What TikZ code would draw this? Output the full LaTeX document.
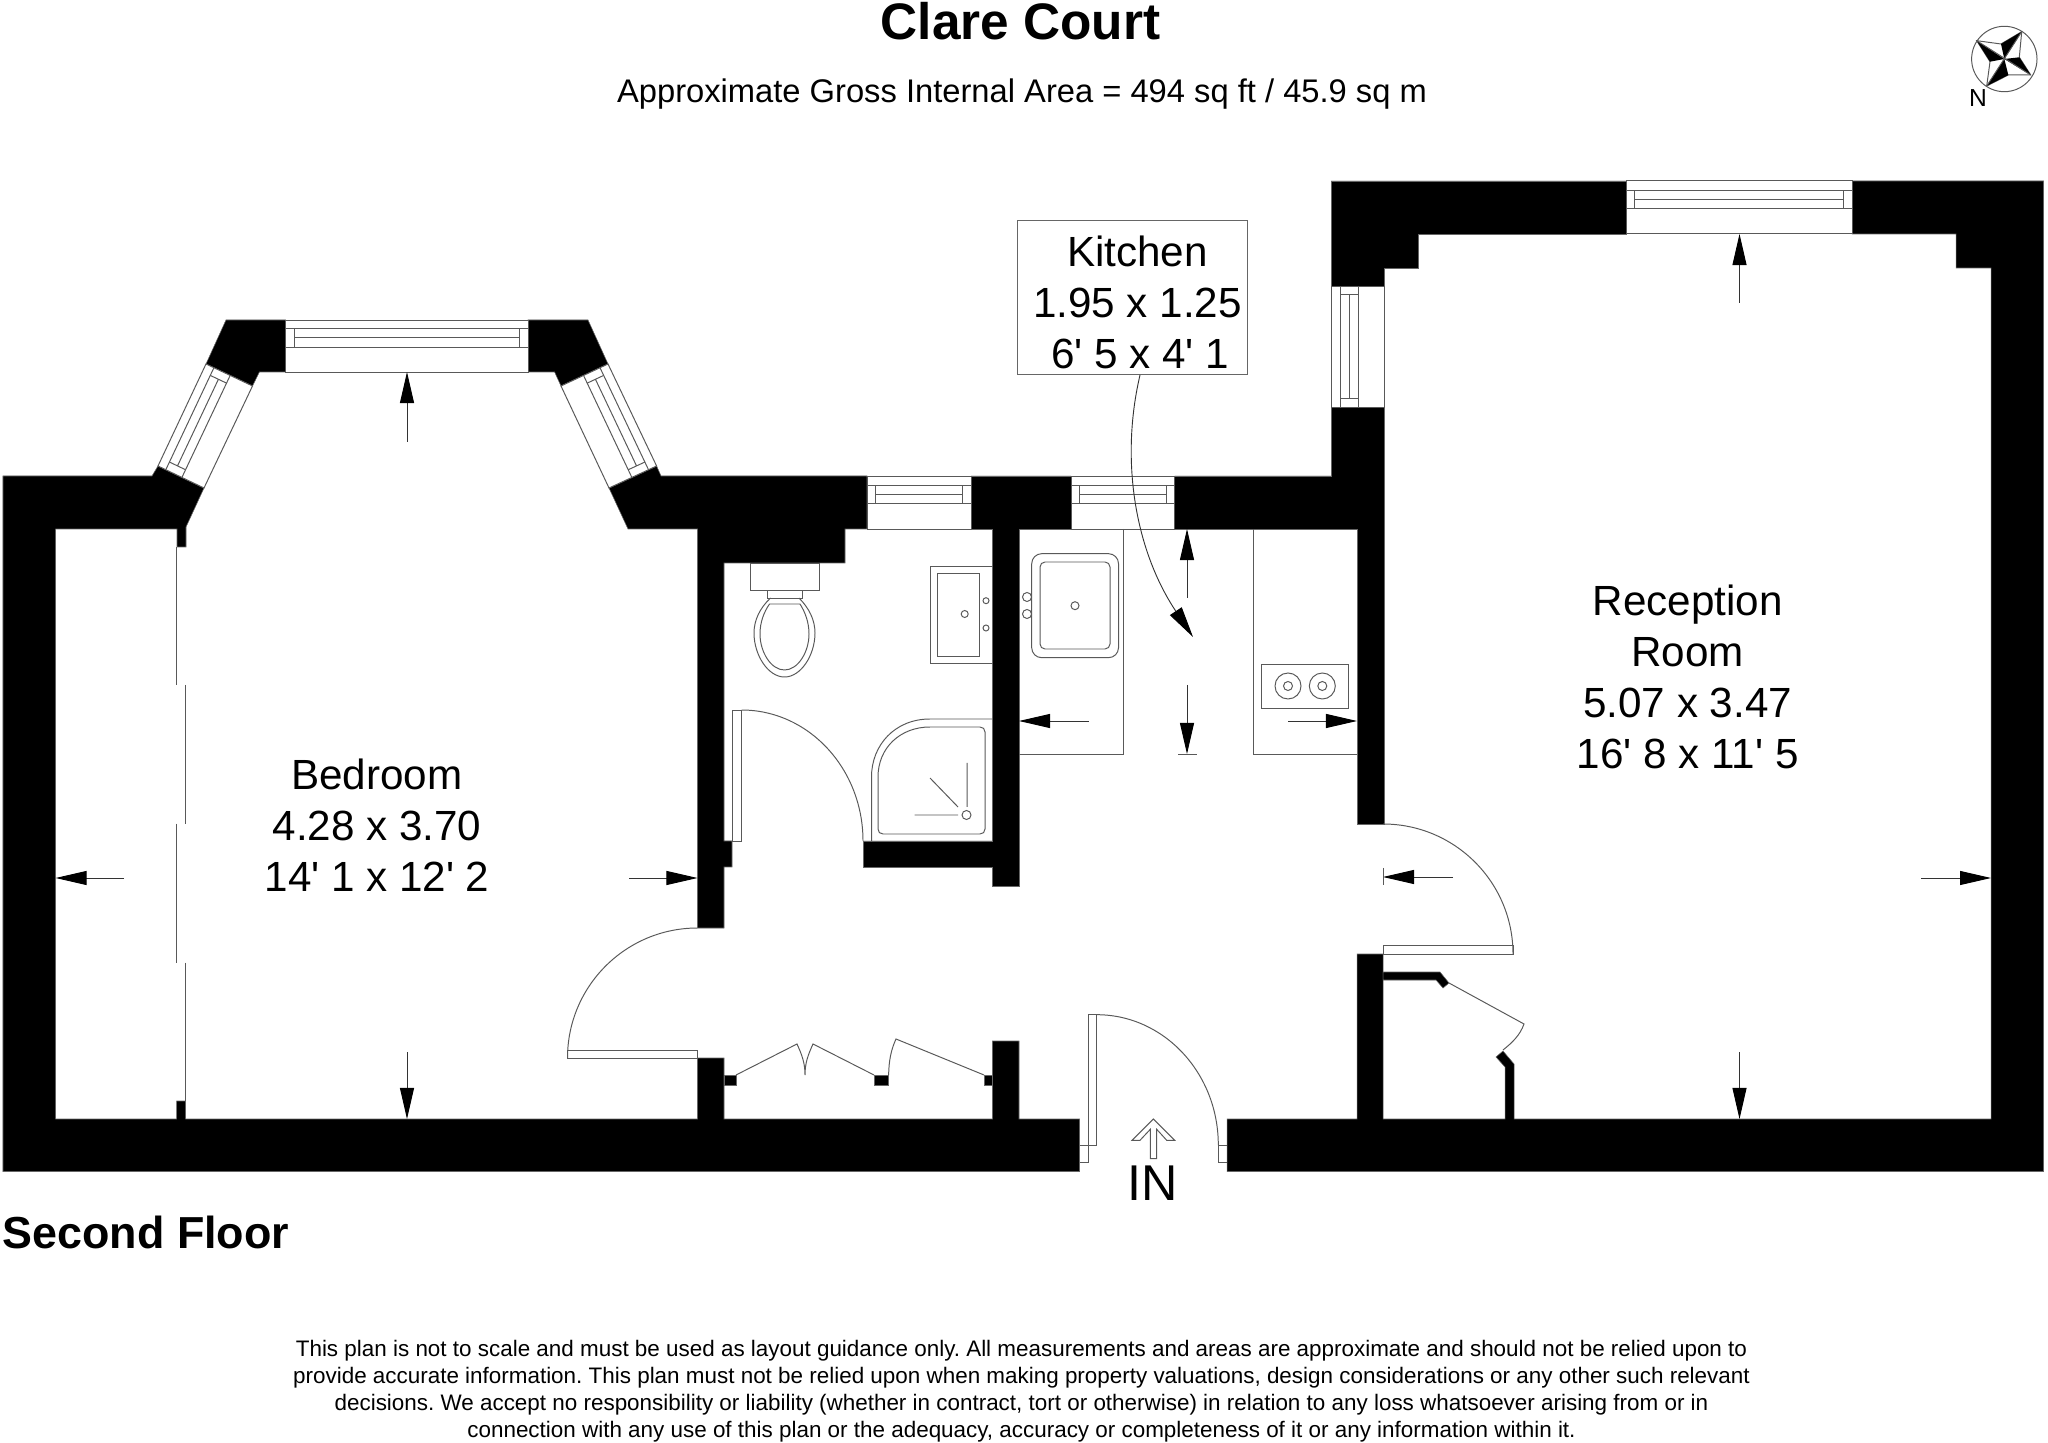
\documentclass[tikz,border=0pt]{standalone}
\usepackage{fontspec}
\setmainfont{Liberation Sans}
\usetikzlibrary{arrows.meta,calc,positioning}

\newcommand{\ft}{\textquotesingle}
% glazing bars of a window, given its four corners
\newcommand{\glazing}[4]{
  \draw[fitting,fill=white] (#1) -- (#2) -- (#3) -- (#4) -- cycle;
  \coordinate (ga) at ($(#1)!.17!(#4)$);
  \coordinate (gb) at ($(#2)!.17!(#3)$);
  \coordinate (ma) at ($(#1)!.345!(#4)$);
  \coordinate (mb) at ($(#2)!.345!(#3)$);
  \coordinate (ha) at ($(#1)!.52!(#4)$);
  \coordinate (hb) at ($(#2)!.52!(#3)$);
  \draw[fitting] (ga) -- (gb) (ha) -- (hb);
  \draw[fitting] ($(ga)!.085cm!(gb)$) -- ($(ha)!.085cm!(hb)$)
                 ($(gb)!.085cm!(ga)$) -- ($(hb)!.085cm!(ha)$)
                 ($(ma)!.085cm!(mb)$) -- ($(mb)!.085cm!(ma)$);
}

\begin{document}
\frenchspacing
\begin{tikzpicture}[x=.01cm,y=-.01cm]
\tikzstyle{wall}=[fill=black,draw=black!60,line width=.15pt]
\tikzstyle{fitting}=[draw=black!65,line width=.28pt]
\tikzstyle{dimline}=[-{Triangle[length=.31cm,width=.14cm,color=black]},draw=black!80,line width=.26pt]
\tikzstyle{roomlabel}=[align=center,inner sep=0pt,font=\fontsize{12}{14.5}\selectfont]
\useasboundingbox (0,0) rectangle (2048,1443);

% walls
\fill[wall] (3,476) -- (152,476) -- (158,466) -- (204,488) -- (186,527) -- (186,547) -- (177,547) -- (177,529) -- (55.6,529) -- (55.6,1119) -- (176.7,1119) -- (176.7,1101) -- (185.7,1101) -- (185.7,1119) -- (697.5,1119) -- (697.5,1058) -- (724,1058) -- (724,1119) -- (992.5,1119) -- (992.5,1041) -- (1019,1041) -- (1019,1119) -- (1079.7,1119) -- (1079.7,1171.5) -- (3,1171.5) -- cycle;
\fill[wall] (226,320) -- (285.6,320) -- (285.6,372) -- (259.4,372) -- (252.5,386) -- (206,364) -- cycle;
\fill[wall] (528,320) -- (588,320) -- (608,364) -- (561,386) -- (554.6,372) -- (528,372) -- cycle;
\fill[wall] (656.6,466) -- (661,476) -- (867,476) -- (867,529) -- (845,529) -- (845,563) -- (724,563) -- (724,841) -- (732,841) -- (732,867) -- (724,867) -- (724,928) -- (697.5,928) -- (697.5,529) -- (628,529) -- (609,488) -- cycle;
\fill[wall] (971,476) -- (1071,476) -- (1071,529) -- (1019,529) -- (1019,886) -- (992.5,886) -- (992.5,867) -- (863,867) -- (863,841) -- (992.5,841) -- (992.5,529) -- (971,529) -- cycle;
\fill[wall] (1174.5,476) -- (1331,476) -- (1331,407) -- (1384,407) -- (1384,824) -- (1357,824) -- (1357,529) -- (1174.5,529) -- cycle;
\fill[wall] (1331,181) -- (1626.3,181) -- (1626.3,234) -- (1418,234) -- (1418,268) -- (1384,268) -- (1384,286) -- (1331,286) -- cycle;
\fill[wall] (1852,181) -- (2043.5,181) -- (2043.5,1171.5) -- (1227,1171.5) -- (1227,1119) -- (1357,1119) -- (1357,954) -- (1383,954) -- (1383,1119) -- (1505,1119) -- (1505,1067) -- (1496,1057) -- (1503,1051) -- (1514,1064) -- (1514,1119) -- (1991,1119) -- (1991,268) -- (1956,268) -- (1956,234) -- (1852,234) -- cycle;
\fill[wall] (1383,972) -- (1440,972) -- (1449,983) -- (1443,988) -- (1436,980) -- (1383,980) -- cycle;
\foreach \xa/\xb in {724/736,874/888.6,984/992.5}
  \fill[wall] (\xa,1075) rectangle (\xb,1085);

% windows
\coordinate (bayla) at (158,466); \coordinate (baylb) at (206,364);
\coordinate (baylc) at (252.5,386); \coordinate (bayld) at (204,488);
\glazing{bayla}{baylb}{baylc}{bayld}
\coordinate (bayra) at (608,364); \coordinate (bayrb) at (656.6,466);
\coordinate (bayrc) at (609,488); \coordinate (bayrd) at (561,386);
\glazing{bayra}{bayrb}{bayrc}{bayrd}
\coordinate (bayta) at (285.6,320); \coordinate (baytb) at (528,320);
\coordinate (baytc) at (528,372); \coordinate (baytd) at (285.6,372);
\glazing{bayta}{baytb}{baytc}{baytd}
\coordinate (batha) at (867,476); \coordinate (bathb) at (971,476);
\coordinate (bathc) at (971,529); \coordinate (bathd) at (867,529);
\glazing{batha}{bathb}{bathc}{bathd}
\coordinate (kita) at (1071,476); \coordinate (kitb) at (1174.5,476);
\coordinate (kitc) at (1174.5,529); \coordinate (kitd) at (1071,529);
\glazing{kita}{kitb}{kitc}{kitd}
\coordinate (recta) at (1626.3,181); \coordinate (rectb) at (1852,181);
\coordinate (rectc) at (1852,234); \coordinate (rectd) at (1626.3,234);
\glazing{recta}{rectb}{rectc}{rectd}
\coordinate (recla) at (1331,286); \coordinate (reclb) at (1331,407);
\coordinate (reclc) at (1384,407); \coordinate (recld) at (1384,286);
\glazing{recla}{reclb}{reclc}{recld}

% bedroom partition
\foreach \xa/\ya/\yb in {176.7/547/685,185.7/685/823.6,176.7/823.6/962.7,185.7/962.7/1101}
  \draw[fitting] (\xa,\ya) -- (\xa,\yb);

% doors
\draw[fitting] (697.5,1050) rectangle (567.5,1058);
\draw[fitting] (697.5,928) arc[start angle=-90,end angle=-180,radius=130];
\draw[fitting] (732,710) rectangle (741.5,841);
\draw[fitting] (741.5,710) arc[start angle=-90,end angle=0,x radius=121.5,y radius=131];
\draw[fitting] (1383,945) rectangle (1513,954);
\draw[fitting] (1383,824) arc[start angle=-90,end angle=0,radius=130];
\draw[fitting] (1079.7,1145) -- (1096.7,1145) -- (1096.7,1014.7) -- (1088.7,1014.7) -- (1088.7,1162) -- (1079.7,1162);
\draw[fitting] (1096.7,1014.7) arc[start angle=-90,end angle=0,x radius=121.6,y radius=130.3];
\draw[fitting] (1227,1145) -- (1218.3,1145) -- (1218.3,1162) -- (1227,1162);

% wardrobe and cupboard doors
\draw[fitting] (736,1075) -- (797,1044) .. controls (802,1055) and (805,1063) .. (805,1075) .. controls (805,1063) and (808,1055) .. (813,1044) -- (874,1075);
\draw[fitting] (888.6,1075) .. controls (889,1060) and (891,1050) .. (896,1039) -- (984,1075);
\draw[fitting] (1449,983) -- (1524,1024) .. controls (1520,1035) and (1513,1042) .. (1503,1050);

% toilet
\draw[fitting] (750,563.7) rectangle (819,590);
\draw[fitting] (767,590) rectangle (802,598);
\draw[fitting] (770.5,598) .. controls (760,608) and (754,620) .. (754,633) .. controls (754,655) and (768,677) .. (784.5,677) .. controls (801,677) and (815,655) .. (815,633) .. controls (815,620) and (809,608) .. (799,598);
\draw[fitting] (769.5,604) -- (800,604) .. controls (805,612) and (809,622) .. (809,634) .. controls (809,652) and (798,670) .. (784.5,670) .. controls (771,670) and (760,652) .. (760,634) .. controls (760,622) and (764,612) .. (769.5,604) -- cycle;

% basin
\draw[fitting] (992.5,566) -- (930,566) -- (930,663) -- (992.5,663);
\draw[fitting] (937.6,573) rectangle (979,656);
\draw[fitting] (964.7,614) circle[radius=3.5];
\draw[fitting] (986,600.7) circle[radius=3] (986,628) circle[radius=3];

% shower
\draw[fitting] (992.5,719) -- (930,719) .. controls (895,719) and (871.5,745) .. (871.5,777) -- (871.5,841);
\draw[fitting] (930,727) -- (980,727) .. controls (983,727) and (985,729) .. (985,732) -- (985,829) .. controls (985,832) and (983,834) .. (980,834) -- (883,834) .. controls (880,834) and (878,832) .. (878,829) -- (878,777) .. controls (878,748) and (900,727) .. (930,727) -- cycle;
\draw[fitting] (966.5,815) circle[radius=4.5];
\draw[fitting] (967,763) -- (967,807) (930,778) -- (958,807) (914.6,815) -- (958,815);

% kitchen units
\draw[fitting] (1123,529) -- (1123,754) -- (1019,754);
\draw[fitting] (1253.5,529) -- (1253.5,754) -- (1357,754);
\draw[fitting,rounded corners=.1cm] (1031.7,553.7) rectangle (1118.5,657.7);
\draw[fitting,rounded corners=.05cm] (1040,562) rectangle (1110,649);
\draw[fitting] (1075,605.7) circle[radius=4];
\draw[fitting] (1027,597) circle[radius=4.5] (1027,614) circle[radius=4.5];
\draw[fitting] (1261.7,664.7) rectangle (1348.5,708.7);
\foreach \xa in {1288,1322.3}
  \draw[fitting] (\xa,686) circle[radius=13] (\xa,686) circle[radius=4.5];

% dimension arrows
\foreach \xa/\ya/\xb/\yb in {407/442/407/372,407/1052/407/1119,124/878/55.6/878,629/878/697.5/878,
  1739.5/303/1739.5/234,1739.5/1052/1739.5/1119,1921/878/1991/878,1453/877/1383/877,
  1187/598/1187/529,1187/685/1187/754,1088.6/721/1019/721,1288/721/1357/721}
  \draw[dimline] (\xa,\ya) -- (\xb,\yb);
\draw[fitting] (1383,868) -- (1383,885);
\draw[fitting] (1178,754) -- (1196.5,754);

% entrance arrow
\draw[fitting] (1153.3,1119) -- (1174.7,1140.3) -- (1166.7,1140.3) -- (1156.7,1129.3) -- (1156.7,1158.7) -- (1150.3,1158.7) -- (1150.3,1129.3) -- (1140,1140.3) -- (1132,1140.3) -- cycle;

% labels
\node[roomlabel] (bedroom) at (377,825) {Bedroom\\4.28 x 3.70\\14\ft\ 1 x 12\ft\ 2};
\node[roomlabel] (reception) at (1687.6,677) {Reception\\Room\\5.07 x 3.47\\16\ft\ 8 x 11\ft\ 5};
\node[draw=black!60,line width=.4pt,minimum width=2.296cm,minimum height=1.54cm] (kitchenbox) at (1132.5,297.3) {};
\node[roomlabel] (kitchen) at (1137.5,302.5) {Kitchen\\1.95 x 1.25\\\hspace*{1.5pt}6\ft\ 5 x 4\ft\ 1};
\coordinate (kitchentip) at (1193,637);
\draw[dimline] ($(kitchenbox.south)+(7.5,0)$) .. controls (1120,460) and (1135,550) .. (kitchentip);
\node[inner sep=0pt,font=\fontsize{14.3}{17}\selectfont] (entry) at (1153,1183) {IN};

\node[inner sep=0pt,font=\fontsize{14.6}{17}\selectfont\bfseries] (title) at (1020.5,21) {Clare Court};
\node[inner sep=0pt,font=\fontsize{9.3}{11}\selectfont] (subtitle) at (1022,94.5) {Approximate Gross Internal Area = 494 sq ft / 45.9 sq m};
\node[inner sep=0pt,anchor=west,font=\fontsize{12.75}{15}\selectfont\bfseries] (floor) at (2,1232) {Second Floor};
\node[inner sep=0pt,align=center,font=\fontsize{6.38}{7.68}\selectfont] (disclaimer) at (1021.5,1391) {This plan is not to scale and must be used as layout guidance only. All measurements and areas are approximate and should not be relied upon to\\provide accurate information. This plan must not be relied upon when making property valuations, design considerations or any other such relevant\\decisions. We accept no responsibility or liability (whether in contract, tort or otherwise) in relation to any loss whatsoever arising from or in\\connection with any use of this plan or the adequacy, accuracy or completeness of it or any information within it.};

% compass
\coordinate (cc) at (2004.3,59);
\draw[fitting] (cc) circle[radius=32.7];
\draw[fitting] (2021.7,31.7) -- (2001,44) -- (1976.7,40.7) -- (1990,61.7) -- (1986.7,86) -- (2008.3,75) -- (2030.7,75) -- (2019.3,57.3) -- cycle;
\fill (2021.7,31.7) -- (2001,44) -- (cc) -- cycle;
\fill (2030.7,75) -- (2019.3,57.3) -- (cc) -- cycle;
\fill (1986.7,86) -- (2008.3,75) -- (cc) -- cycle;
\fill (1976.7,40.7) -- (1990,61.7) -- (cc) -- cycle;
\draw[fitting] (2021.7,31.7) -- (1986.7,86) (1976.7,40.7) -- (2030.7,75);
\node[inner sep=0pt,font=\fontsize{7}{8}\selectfont] (north) at (1978,98) {N};
\end{tikzpicture}
\end{document}
